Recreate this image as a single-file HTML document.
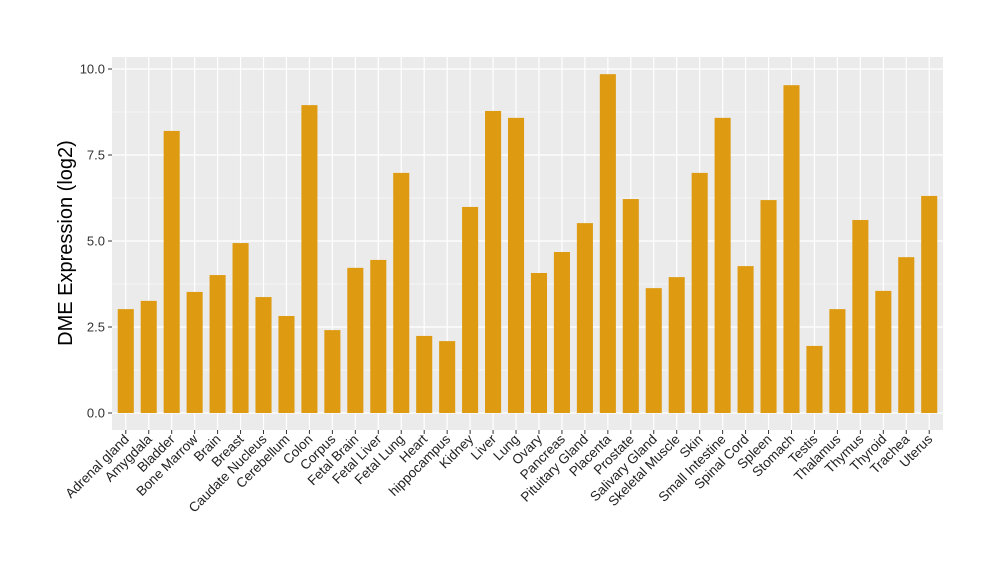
<!DOCTYPE html>
<html><head><meta charset="utf-8"><style>
body{margin:0;background:#fff;font-family:"Liberation Sans",sans-serif;}
</style></head><body>
<svg id="chart" width="1000" height="580" xmlns="http://www.w3.org/2000/svg" font-family="Liberation Sans, sans-serif"></svg>
<script>
const categories=["Adrenal gland","Amygdala","Bladder","Bone Marrow","Brain","Breast","Caudate Nucleus","Cerebellum","Colon","Corpus","Fetal Brain","Fetal Liver","Fetal Lung","Heart","hippocampus","Kidney","Liver","Lung","Ovary","Pancreas","Pituitary Gland","Placenta","Prostate","Salivary Gland","Skeletal Muscle","Skin","Small Intestine","Spinal Cord","Spleen","Stomach","Testis","Thalamus","Thymus","Thyroid","Trachea","Uterus"];
const values=[3.02,3.26,8.2,3.52,4.01,4.94,3.37,2.82,8.95,2.41,4.22,4.45,6.98,2.24,2.09,5.99,8.78,8.58,4.07,4.68,5.52,9.85,6.22,3.63,3.95,6.98,8.58,4.27,6.19,9.53,1.95,3.02,5.61,3.55,4.53,6.31];
const yTicks=[0,2.5,5,7.5,10];
const yTickLabels=["0.0","2.5","5.0","7.5","10.0"];
const NS="http://www.w3.org/2000/svg";
const svg=document.getElementById('chart');
const P={l:112,r:943,t:57,b:430};
const y=v=>413-v*34.4;
const n=categories.length;
const step=(P.r-P.l)/(n-1+1.2);
const x=i=>P.l+step*(i+0.6);
const bw=step*0.7;
function mk(t,a,p){const e=document.createElementNS(NS,t);for(const k in a)e.setAttribute(k,a[k]);(p||svg).appendChild(e);return e;}
const bg=mk('rect',{x:P.l,y:P.t,width:P.r-P.l,height:P.b-P.t,fill:'#EBEBEB'});


for(let i=0;i<yTicks.length-1;i++){const m=(yTicks[i]+yTicks[i+1])/2;mk('line',{x1:P.l,x2:P.r,y1:y(m),y2:y(m),stroke:'#fff','stroke-width':0.6});}
yTicks.forEach((t,i)=>{
 const g=mk('line',{x1:P.l,x2:P.r,y1:y(t),y2:y(t),stroke:'#fff','stroke-width':1.2});
 
 
 mk('line',{x1:P.l-4,x2:P.l,y1:y(t),y2:y(t),stroke:'#333'});
 const tx=mk('text',{x:P.l-7,y:y(t)+4.5,'text-anchor':'end','font-size':13,fill:'#333'});
 tx.textContent=yTickLabels[i];
 
 
});
categories.forEach((c,i)=>{
 mk('line',{x1:x(i),x2:x(i),y1:P.t,y2:P.b,stroke:'#fff','stroke-width':1.2});
});
categories.forEach((c,i)=>{
 const b=mk('rect',{x:x(i)-bw/2,y:y(values[i]),width:bw,height:y(0)-y(values[i]),fill:'#DE9B12'});
 
 
 mk('line',{x1:x(i),x2:x(i),y1:P.b,y2:P.b+4,stroke:'#333'});
 const t=mk('text',{x:x(i)+4,y:P.b+10,'text-anchor':'end','font-size':13.5,fill:'#222',transform:`rotate(-45 ${x(i)+4} ${P.b+10})`});
 t.textContent=c;
 
 
});
const yt=mk('text',{x:72,y:243,'text-anchor':'middle','font-size':20,fill:'#000',transform:'rotate(-90 72 243)'});
yt.textContent='DME Expression (log2)';


</script>
</body></html>
